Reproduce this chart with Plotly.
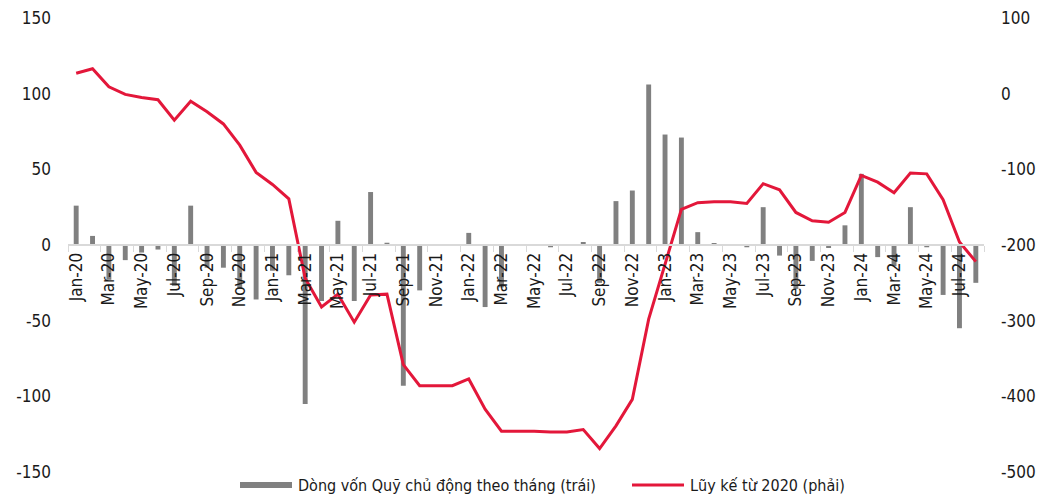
import plotly.graph_objects as go

# Monthly periods, Jan-20 .. Aug-24
months = [
    "Jan-20", "Feb-20", "Mar-20", "Apr-20", "May-20", "Jun-20", "Jul-20", "Aug-20",
    "Sep-20", "Oct-20", "Nov-20", "Dec-20", "Jan-21", "Feb-21", "Mar-21", "Apr-21",
    "May-21", "Jun-21", "Jul-21", "Aug-21", "Sep-21", "Oct-21", "Nov-21", "Dec-21",
    "Jan-22", "Feb-22", "Mar-22", "Apr-22", "May-22", "Jun-22", "Jul-22", "Aug-22",
    "Sep-22", "Oct-22", "Nov-22", "Dec-22", "Jan-23", "Feb-23", "Mar-23", "Apr-23",
    "May-23", "Jun-23", "Jul-23", "Aug-23", "Sep-23", "Oct-23", "Nov-23", "Dec-23",
    "Jan-24", "Feb-24", "Mar-24", "Apr-24", "May-24", "Jun-24", "Jul-24", "Aug-24",
]

# Monthly flow of active funds (left axis)
monthly_flow = [
    26, 6, -23, -10, -5, -3, -27, 26,
    -15, -15, -29, -36, -17, -20, -105, -37,
    16, -37, 35, 1.5, -93, -30, 0.5, 0,
    8, -41, -28, 0, -0.5, -1.5, 0.5, 2,
    -25, 29, 36, 106, 73, 71, 8.5, 1,
    -0.5, -1.5, 25, -7, -29, -10.5, -2, 13,
    47, -8, -14, 25, -1.5, -33, -55, -25,
]

# Cumulative flow since 2020 (right axis)
cumulative = [
    27, 33, 9, -1, -5, -8, -35, -10,
    -24, -40, -68, -104, -120, -139, -244, -282,
    -265, -302, -266, -265, -358, -386, -386, -386,
    -377, -417, -446, -446, -446, -447, -447, -444,
    -469, -439, -404, -298, -226, -153, -144, -143,
    -143, -145, -119, -127, -157, -168, -170, -157,
    -108, -117, -131, -105, -106, -140, -196, -222,
]

left_ticks = [-150, -100, -50, 0, 50, 100, 150]
left_labels = ["-150", "-100", "-50", "0", "50", "100", "150"]
right_ticks = [-500, -400, -300, -200, -100, 0, 100]
right_labels = ["-500", "-400", "-300", "-200", "-100", "0", "100"]

bar_name = "Dòng vốn Quỹ chủ động theo tháng (trái)"
line_name = "Lũy kế từ 2020 (phải)"

FONT = "DejaVu Sans Condensed, Liberation Sans Narrow, sans-serif"
TEXT = "#1a1a1a"
BAR_COLOR = "#808080"
LINE_COLOR = "#E3173A"
AXIS_GREY = "#D9D9D9"

W, H = 1043, 497
L, R, T, B = 68, 59, 18, 25
plot_w = W - L - R
plot_h = H - T - B


def px_x(x):
    return (x - L) / plot_w


def px_y(y):
    return (H - B - y) / plot_h


fig = go.Figure()

fig.add_trace(go.Bar(
    x=months, y=monthly_flow, name=bar_name,
    marker=dict(color=BAR_COLOR, line=dict(width=0)),
    yaxis="y", showlegend=False,
))

fig.add_trace(go.Scatter(
    x=months, y=cumulative, name=line_name, mode="lines",
    line=dict(color=LINE_COLOR, width=3),
    yaxis="y2", showlegend=False,
))

# Legend drawn as swatches plus labels under the plot
fig.add_shape(type="rect", xref="paper", yref="paper",
              x0=px_x(240), x1=px_x(292), y0=px_y(488), y1=px_y(482),
              fillcolor=BAR_COLOR, line=dict(width=0))
fig.add_annotation(text=bar_name, xref="paper", yref="paper",
                   x=px_x(296), y=px_y(485), xanchor="left", yanchor="middle",
                   showarrow=False, font=dict(family=FONT, size=16, color=TEXT))
fig.add_shape(type="line", xref="paper", yref="paper",
              x0=px_x(632), x1=px_x(684), y0=px_y(485), y1=px_y(485),
              line=dict(color=LINE_COLOR, width=3))
fig.add_annotation(text=line_name, xref="paper", yref="paper",
                   x=px_x(688), y=px_y(485), xanchor="left", yanchor="middle",
                   showarrow=False, font=dict(family=FONT, size=16, color=TEXT))

fig.update_layout(
    width=W, height=H,
    margin=dict(l=L, r=R, t=T, b=B, pad=0, autoexpand=False),
    paper_bgcolor="white", plot_bgcolor="white",
    font=dict(family=FONT, size=16, color=TEXT),
    bargap=0.7,
    xaxis=dict(
        type="category", automargin=False,
        anchor="free", position=0.5,
        showline=True, linecolor=AXIS_GREY, linewidth=2,
        ticks="outside", tickson="boundaries", ticklen=6, tickcolor=AXIS_GREY, tickwidth=1,
        dtick=2, tickangle=-90,
        showgrid=False, zeroline=False,
        tickfont=dict(family=FONT, size=17, color=TEXT),
    ),
    yaxis=dict(
        range=[-150, 150], tickvals=left_ticks, ticktext=left_labels,
        automargin=False,
        showgrid=False, zeroline=False, showline=False, ticks="",
        ticklabelstandoff=16,
        tickfont=dict(family=FONT, size=17, color=TEXT),
    ),
    yaxis2=dict(
        range=[-500, 100], tickvals=right_ticks, ticktext=right_labels,
        overlaying="y", side="right", automargin=False,
        showgrid=False, zeroline=False, showline=False, ticks="",
        ticklabelstandoff=16,
        tickfont=dict(family=FONT, size=17, color=TEXT),
    ),
)

fig.write_html("out.html")
